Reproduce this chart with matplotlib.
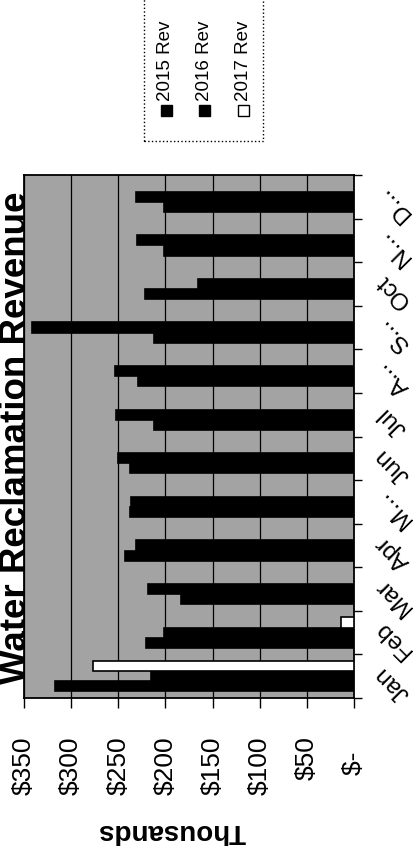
import numpy as np
import matplotlib
matplotlib.use("Agg")
import matplotlib.pyplot as plt
from matplotlib.patches import Rectangle
from matplotlib.transforms import blended_transform_factory

plt.rcParams['font.family'] = ['Liberation Sans', 'DejaVu Sans']

# ---- data ($ thousands) ----
months = ["Jan", "Feb", "Mar", "Apr", "M...", "Jun", "Jul", "A...", "S...", "Oct", "N...", "D..."]
rev_2015 = [317, 221, 183, 243, 238, 238, 212, 229, 212, 222, 202, 201]
rev_2016 = [215, 201, 219, 231, 237, 250, 252, 253, 341, 165, 230, 231]
rev_2017 = [277, 14, None, None, None, None, None, None, None, None, None, None]
series_names = ["2015 Rev", "2016 Rev", "2017 Rev"]
value_ticks = [0, 50, 100, 150, 200, 250, 300, 350]
value_labels = ["$-", "$50", "$100", "$150", "$200", "$250", "$300", "$350"]
title = "Water Reclamation Revenue"
axis_title = "Thousands"

W, H = 416, 854
fig = plt.figure(figsize=(W / 100, H / 100), dpi=100)
fig.patch.set_facecolor('white')

# plot area (chart is rotated 90 degrees counter-clockwise)
L, R, T, B = 24, 354, 176, 699
ax = fig.add_axes([L / W, 1 - B / H, (R - L) / W, (B - T) / H])
ax.set_facecolor('#a3a3a3')

y = np.arange(len(months))
bw = 0.232
fills = ['black', 'black', 'white']
series = [rev_2015, rev_2016, rev_2017]
offsets = [-bw, 0, bw]
for vals, off, fc in zip(series, offsets, fills):
    idx = [i for i, v in enumerate(vals) if v is not None]
    ax.barh(y[idx] + off, [vals[i] for i in idx], height=bw, color=fc,
            edgecolor='black', linewidth=1.2, zorder=3)

ax.set_xlim(350, 0)
ax.set_ylim(-0.5, len(months) - 0.5)

ax.set_xticks(value_ticks)
ax.set_xticklabels([lab + "  " if lab == "$-" else lab for lab in value_labels])
ax.tick_params(axis='x', length=7, width=1, direction='out', pad=20,
               labelsize=19, labelrotation=90)
ax.xaxis.grid(True, color='black', linewidth=0.9, zorder=1)
ax.set_axisbelow(True)

ax.yaxis.tick_right()
ax.set_yticks(np.arange(-0.5, len(months), 1))
ax.set_yticklabels([])
ax.tick_params(axis='y', length=6, width=1, direction='out')

for s in ax.spines.values():
    s.set_color('black')
    s.set_linewidth(1.3)

trans = blended_transform_factory(ax.transAxes, ax.transData)
xlab = (393 - L) / (R - L)
for i, m in enumerate(months):
    ax.text(xlab, i - 0.14, m, transform=trans, rotation=135,
            rotation_mode='anchor', ha='center', va='center', fontsize=17.5,
            clip_on=False)

# title and axis title
fig.text(26.5 / W, 1 - 438 / H, title, rotation=90, rotation_mode='anchor',
         ha='center', va='baseline', fontsize=26.5, fontweight='bold')
fig.text(172 / W, 1 - 831 / H, axis_title, rotation=180, rotation_mode='anchor',
         ha='center', va='center', fontsize=20, fontweight='bold')

# legend (rotated)
lx0, lx1, ly0, ly1 = 144, 263, -1, 142
fig.patches.append(Rectangle((lx0 / W, 1 - ly1 / H), (lx1 - lx0) / W, (ly1 - ly0) / H,
                             transform=fig.transFigure, facecolor='white',
                             edgecolor='black', linestyle=':', linewidth=1.0))
for k, (name, fc) in enumerate(zip(series_names, fills)):
    cx = 166 + 38.5 * k
    sq = 11
    fig.patches.append(Rectangle(((cx - sq / 2) / W, 1 - (106 + sq) / H), sq / W, sq / H,
                                 transform=fig.transFigure, facecolor=fc,
                                 edgecolor='black', linewidth=1.0))
    fig.text(cx / W, 1 - 101 / H, name, rotation=90, rotation_mode='anchor',
             ha='left', va='center', fontsize=13.5)

fig.savefig('out.png', dpi=100)
